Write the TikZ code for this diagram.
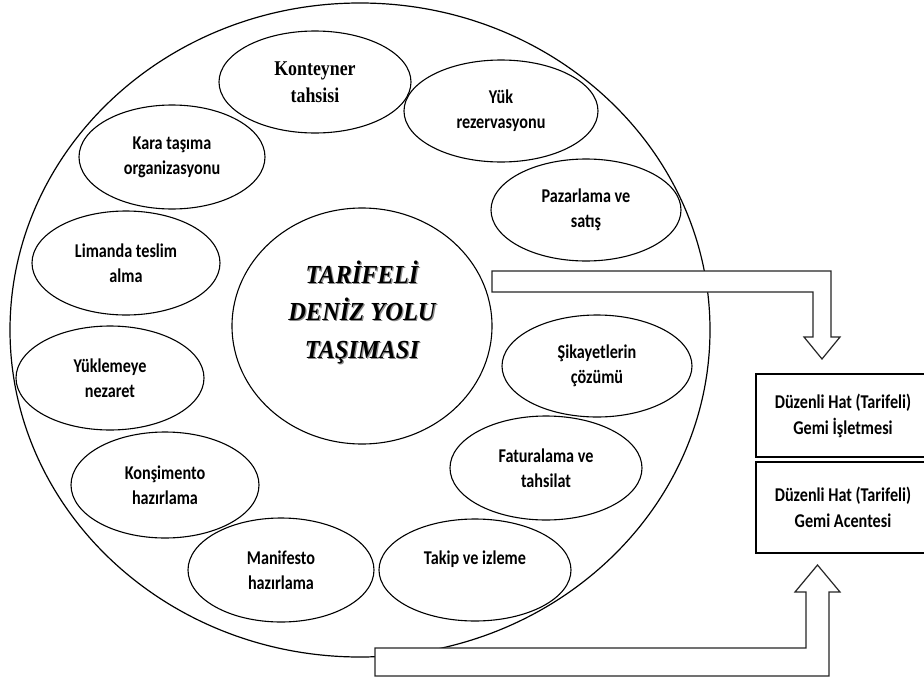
\documentclass[tikz,border=0pt]{standalone}
\usepackage{fontspec}
\usetikzlibrary{shapes.geometric}
\newfontfamily\lblfont{Carlito}[FakeStretch=0.83]
\newfontfamily\konfont{Liberation Serif}[FakeStretch=0.85]
\newfontfamily\cfont{Liberation Serif}[FakeStretch=0.94]
\tikzset{
  oval/.style={ellipse, draw, line width=1.1pt, inner sep=0pt, align=center,
    font=\lblfont\bfseries\fontsize{19.5}{25}\selectfont},
  bigarrow/.style={draw=black!85, line width=1.2pt, fill=white, line join=miter},
  infobox/.style={draw, line width=1.3pt, inner sep=0pt, align=center,
    minimum width=174pt, font=\lblfont\bfseries\fontsize{19.5}{26}\selectfont},
  coretext/.style={align=center, inner sep=0pt,
    font=\cfont\bfseries\itshape\fontsize{26}{37.5}\selectfont}
}
\begin{document}
\begin{tikzpicture}[x=1pt,y=-1pt]
\useasboundingbox (0,0) rectangle (924,680);
\clip (0,0) rectangle (924,680);
\fill[white] (0,0) rectangle (924,680);
% outer circle
\node[ellipse, draw, line width=1.2pt, inner sep=0pt, minimum width=700pt, minimum height=654pt] (outer) at (360,330) {};
% core
\node[oval, minimum width=260pt, minimum height=236pt] (core) at (362,326) {};
\node[coretext, text=black!45] (coreshadow) at (363.2,313.2) {TARİFELİ\\DENİZ YOLU\\TAŞIMASI};
\node[coretext] (coretxt) at (362,312) {TARİFELİ\\DENİZ YOLU\\TAŞIMASI};
% activities
\node[oval, minimum width=192pt, minimum height=102pt, font=\konfont\bfseries\fontsize{21}{27}\selectfont] (konteyner) at (315,82) {Konteyner\\tahsisi};
\node[oval, minimum width=194pt, minimum height=102pt] (yuk) at (501,111) {Yük\\rezervasyonu};
\node[oval, minimum width=186pt, minimum height=104pt] (kara) at (172,157) {Kara taşıma\\organizasyonu};
\node[oval, minimum width=190pt, minimum height=102pt] (pazarlama) at (586,210) {Pazarlama ve\\satış};
\node[oval, minimum width=188pt, minimum height=104pt] (liman) at (126,263) {Limanda teslim\\alma};
\node[oval, minimum width=190pt, minimum height=102pt] (sikayet) at (597,366) {Şikayetlerin\\çözümü};
\node[oval, minimum width=188pt, minimum height=104pt] (yukleme) at (110,378) {Yüklemeye\\nezaret};
\node[oval, minimum width=192pt, minimum height=104pt] (fatura) at (546,468) {Faturalama ve\\tahsilat};
\node[oval, minimum width=188pt, minimum height=106pt] (konsimento) at (165,485) {Konşimento\\hazırlama};
\node[oval, minimum width=186pt, minimum height=104pt] (manifesto) at (281,570) {Manifesto\\hazırlama};
\node[oval, minimum width=192pt, minimum height=102pt] (takip) at (475,570) {Takip ve izleme\\\phantom{x}};
% boxes
\node[infobox, minimum height=83pt] (isletme) at (843,415.5) {Düzenli Hat (Tarifeli)\\Gemi İşletmesi};
\node[infobox, minimum height=91pt] (acente) at (843,507.5) {Düzenli Hat (Tarifeli)\\Gemi Acentesi};
% block arrows
\draw[bigarrow] (492,271) -- (831,271) -- (831,337) -- (840,337) -- (822,359)
  -- (804,337) -- (813,337) -- (813,292) -- (492,292) -- cycle;
\draw[bigarrow] (375,648) -- (806,648) -- (806,592) -- (795,592) -- (817.5,565)
  -- (840,592) -- (829,592) -- (829,676) -- (375,676) -- cycle;
\end{tikzpicture}
\end{document}
